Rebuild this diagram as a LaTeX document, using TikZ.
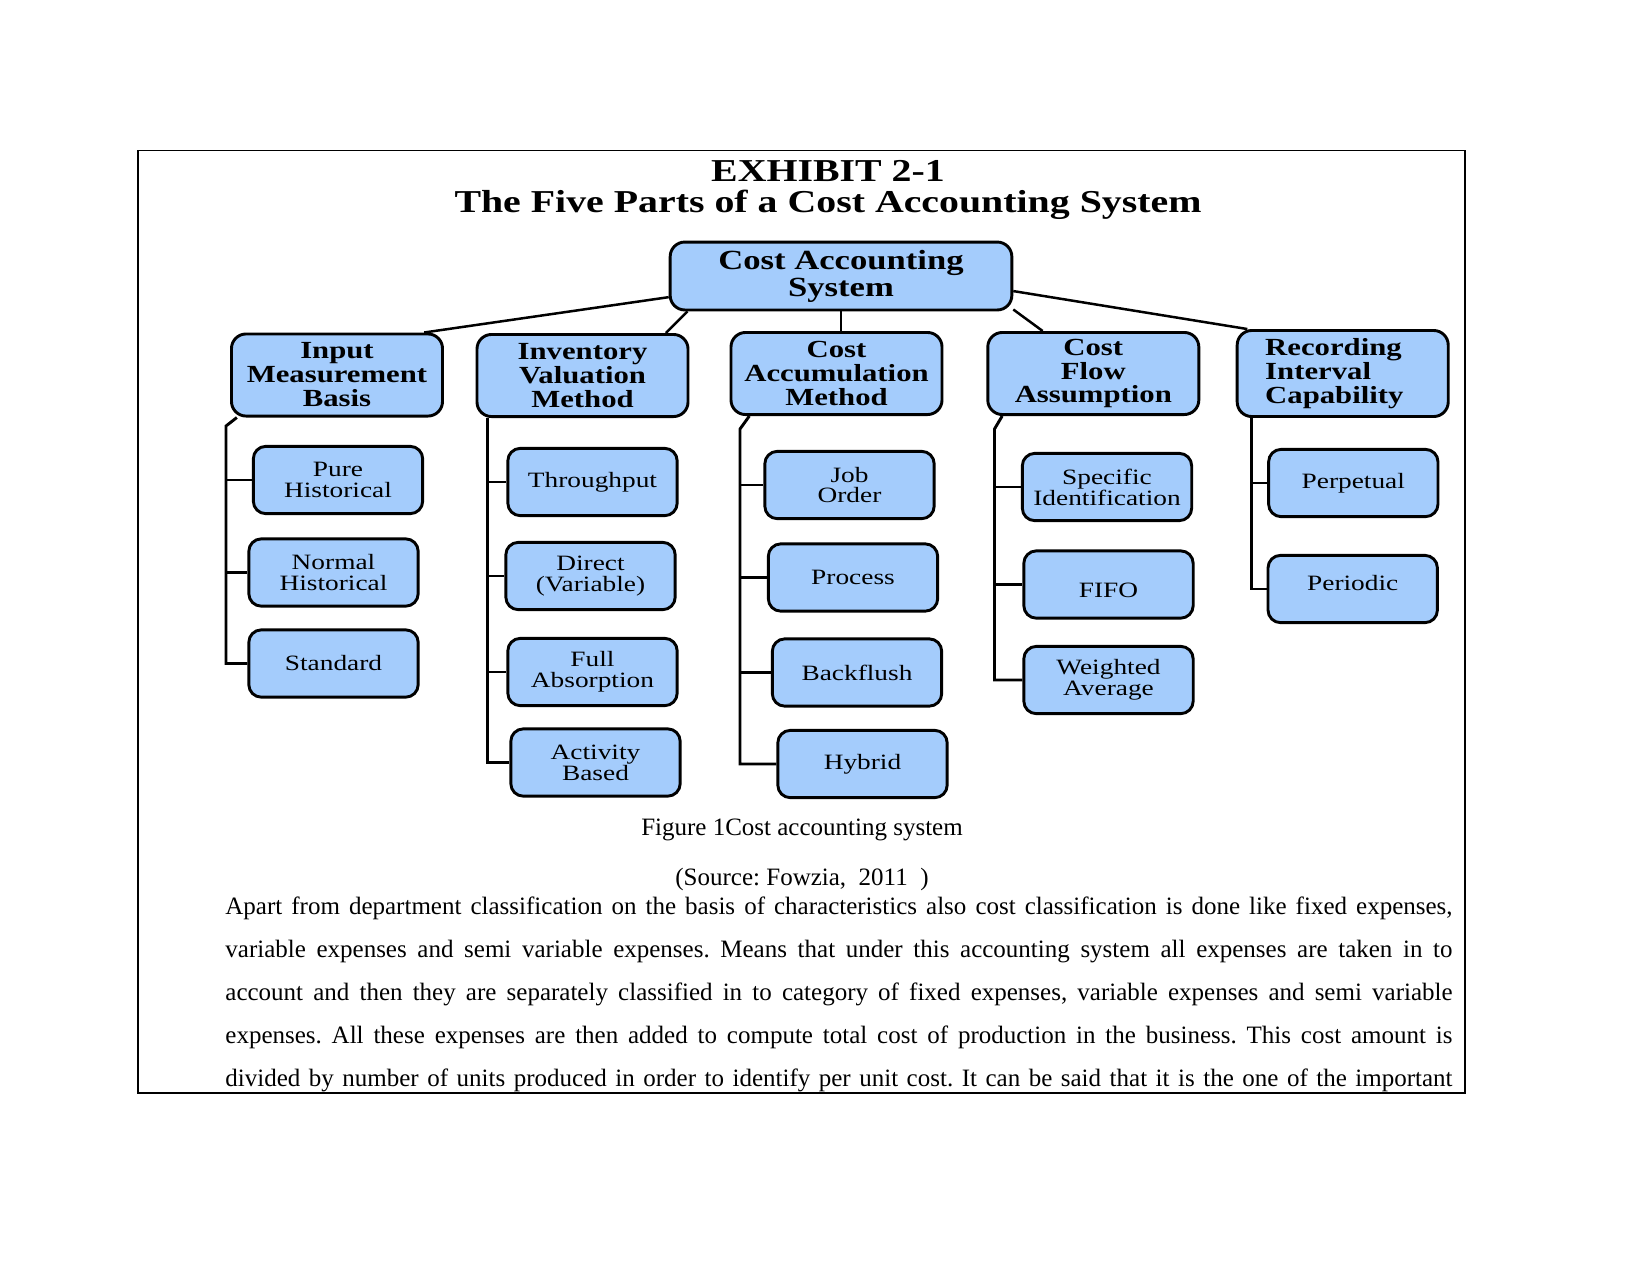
\documentclass[tikz,border=0pt]{standalone}
\usepackage{fontspec}
\setmainfont{Liberation Serif}
\newfontfamily\widefont[FakeStretch=1.25]{Liberation Serif}
\usetikzlibrary{positioning}
\definecolor{boxblue}{RGB}{164,204,252}
\frenchspacing

\begin{document}
\begin{tikzpicture}[
        x=0.48pt, y=-0.48pt,
        every node/.style={inner sep=0pt},
        basebox/.style={draw, line width=1.4pt, fill=boxblue, align=center},
        rootbox/.style={basebox, rounded corners=7pt, minimum width=164pt, minimum height=32.6pt,
            font=\widefont\bfseries\fontsize{13.3}{13}\selectfont},
        partbox/.style={basebox, rounded corners=7pt, minimum width=101.3pt, minimum height=39.4pt,
            font=\widefont\bfseries\fontsize{11.8}{11.5}\selectfont},
        itembox/.style={basebox, rounded corners=6pt, minimum width=81.3pt, minimum height=32.3pt,
            font=\widefont\fontsize{10.5}{10}\selectfont},
        link/.style={line width=1.2pt},
        trunk/.style={line width=1.4pt}
    ]
    \useasboundingbox (0,0) rectangle (1650,1275);
    % Title
    \node[anchor=base, font=\widefont\bfseries\fontsize{15.3}{15.3}\selectfont] (exh) at (828,181) {EXHIBIT 2-1};
    \node[anchor=base, font=\widefont\bfseries\fontsize{15.3}{15.3}\selectfont] (ttl) at (828,212) {The Five Parts of a Cost Accounting System};
    % Define nodes
    \node[rootbox] (cas) at (841,276) {Cost Accounting\\System};
    \node[partbox] (imb) at (337,375) {Input\\Measurement\\Basis};
    \node[partbox] (ivm) at (582.5,375.5) {Inventory\\Valuation\\Method};
    \node[partbox] (cam) at (836.5,373.5) {Cost\\Accumulation\\Method};
    \node[partbox] (cfa) at (1093.3,373.5) {Cost\\Flow\\Assumption};
    \node[partbox, align=left, minimum height=41.3pt] (ric) at (1342.7,373.5) {Recording\\Interval\\Capability\hspace*{8pt}};
    \node[itembox] (ph) at (338,480) {Pure\\Historical};
    \node[itembox] (nh) at (333.5,572.5) {Normal\\Historical};
    \node[itembox] (sd) at (333.5,663.5) {Standard};
    \node[itembox] (tp) at (592.5,482) {Throughput};
    \node[itembox] (dv) at (590.5,576) {Direct\\(Variable)};
    \node[itembox] (fa) at (592.5,672) {Full\\Absorption};
    \node[itembox] (ab) at (595.5,762.5) {Activity\\Based};
    \node[itembox] (jo) at (849.5,485) {Job\\Order};
    \node[itembox] (pr) at (853,577.5) {Process};
    \node[itembox] (bf) at (857,672.5) {Backflush};
    \node[itembox] (hy) at (862.5,764) {Hybrid};
    \node[itembox] (si) at (1107,487) {Specific\\Identification};
    \node[itembox] (ff) at (1108.5,584.5) {\raisebox{-3pt}[\height][\depth]{FIFO}};
    \node[itembox] (wa) at (1108.5,680) {Weighted\\Average};
    \node[itembox] (pp) at (1353.3,483) {Perpetual};
    \node[itembox] (pd) at (1352.7,589) {\raisebox{3pt}[\height][\depth]{Periodic}};
    \coordinate (imbT) at (226,426);
    \coordinate (camT) at (740,429);
    \coordinate (cfaT) at (994.5,429);
    % Draw edges
    \draw[link] (cas.187) -- (imb.26);
    \draw[link] (cas.193) -- (ivm.27);
    \draw[link] (cas.south) -- (cas.south |- cam.north);
    \draw[link] (cas.-11) -- (cfa.140);
    \draw[link] (cas.-5) -- (ric.155);
    \draw[trunk] (imb.203) -- (imbT) |- (sd.west);
    \draw[trunk] (imbT |- ph.west) -- (ph.west);
    \draw[trunk] (imbT |- nh.west) -- (nh.west);
    \draw[trunk] (ivm.204) |- (ab.west);
    \draw[trunk] (ivm.204 |- tp.west) -- (tp.west);
    \draw[trunk] (ivm.204 |- dv.west) -- (dv.west);
    \draw[trunk] (ivm.204 |- fa.west) -- (fa.west);
    \draw[trunk] (cam.206) -- (camT) |- (hy.west);
    \draw[trunk] (camT |- jo.west) -- (jo.west);
    \draw[trunk] (camT |- pr.west) -- (pr.west);
    \draw[trunk] (camT |- bf.west) -- (bf.west);
    \draw[trunk] (cfa.205) -- (cfaT) |- (wa.west);
    \draw[trunk] (cfaT |- si.west) -- (si.west);
    \draw[trunk] (cfaT |- ff.west) -- (ff.west);
    \draw[trunk] (ric.206) |- (pd.west);
    \draw[trunk] (ric.206 |- pp.west) -- (pp.west);
    % Caption and text
    \node[anchor=base, font=\fontsize{12}{14}\selectfont] (cap) at (802,835) {Figure 1Cost accounting system};
    \node[anchor=base, font=\fontsize{12}{14}\selectfont] (src) at (802,885) {(Source: Fowzia,\ \ 2011\ \ )};
    \node[anchor=north west, text width=589pt, align=justify, font=\fontsize{12}{20.7}\selectfont] (txt) at (225,896) {\parfillskip=0pt
        Apart from department classification on the basis of characteristics also cost classification is done like fixed expenses,\linebreak
        variable expenses and semi variable expenses. Means that under this accounting system all expenses are taken in to\linebreak
        account and then they are separately classified in to category of fixed expenses, variable expenses and semi variable\linebreak
        expenses. All these expenses are then added to compute total cost of production in the business. This cost amount is\linebreak
        divided by number of units produced in order to identify per unit cost. It can be said that it is the one of the important\par};
    \draw[line width=0.7pt] (138,150.5) rectangle (1465,1093);
\end{tikzpicture}
\end{document}
